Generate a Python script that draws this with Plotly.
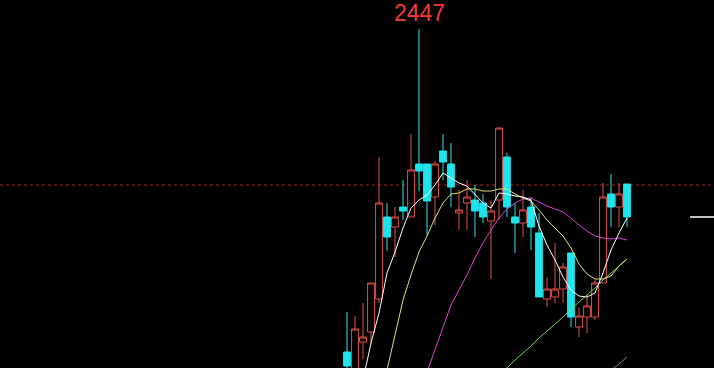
import plotly.graph_objects as go

# ---- data (price units) ----
idx = list(range(36))
opens  = [2124, 2096, 2134, 2144, 2177, 2259, 2249, 2269, 2259, 2312, 2312, 2279, 2325, 2312, 2263, 2273,
          2276, 2273, 2255, 2276, 2319, 2259, 2253, 2269, 2243, 2177, 2179, 2187, 2223, 2149, 2159, 2159,
          2193, 2282, 2269, 2292]
highs  = [2164, 2160, 2173, 2193, 2319, 2273, 2269, 2296, 2342, 2447, 2312, 2315, 2342, 2333, 2286, 2296,
          2291, 2282, 2276, 2348, 2323, 2273, 2286, 2279, 2263, 2199, 2233, 2213, 2223, 2168, 2181, 2196,
          2293, 2302, 2293, 2292]
lows   = [2104, 2090, 2117, 2133, 2173, 2225, 2219, 2256, 2259, 2285, 2241, 2251, 2296, 2269, 2246, 2246,
          2239, 2253, 2197, 2256, 2259, 2223, 2239, 2226, 2179, 2169, 2173, 2173, 2149, 2139, 2143, 2156,
          2193, 2249, 2249, 2249]
closes = [2110, 2147, 2139, 2193, 2273, 2239, 2259, 2265, 2306, 2305, 2275, 2312, 2314, 2289, 2266, 2279,
          2265, 2259, 2265, 2348, 2269, 2253, 2266, 2249, 2179, 2187, 2187, 2209, 2159, 2160, 2170, 2193,
          2279, 2269, 2282, 2259]

ma5_x  = list(range(1, 36))
ma5    = [2076, 2096, 2133, 2163, 2203, 2224, 2248, 2268, 2276, 2281, 2291, 2303, 2298, 2293, 2290, 2281,
          2273, 2268, 2283, 2282, 2280, 2279, 2276, 2250, 2231, 2216, 2199, 2186, 2180, 2179, 2183, 2203,
          2226, 2243, 2258]
ma10_x = list(range(4, 36))
ma10   = [2071, 2106, 2141, 2176, 2201, 2224, 2240, 2258, 2273, 2282, 2283, 2287, 2287, 2285, 2285, 2287,
          2287, 2282, 2278, 2275, 2266, 2256, 2248, 2240, 2228, 2212, 2202, 2197, 2197, 2200, 2210, 2217]
ma20_x = list(range(10, 36))
ma20   = [2104, 2126, 2149, 2171, 2186, 2201, 2218, 2233, 2246, 2258, 2267, 2273, 2277, 2278, 2274, 2270,
          2267, 2264, 2258, 2251, 2245, 2240, 2238, 2237, 2238, 2236]
ma60_x = list(range(19, 36))
ma60   = [2101, 2108, 2116, 2123, 2130, 2138, 2145, 2152, 2159, 2167, 2174, 2181, 2188, 2196, 2203, 2210, 2217]
ma120_x = [32, 33, 34, 35]
ma120  = [2100, 2106, 2112, 2119]

ref_price = 2291          # dashed reference line
y_range = [2108, 2476]
x_range = [-43.375, 45.875]

UP = "#e2504a"
DOWN = "#1fe4ec"

fig = go.Figure()

ma_styles = [
    (ma120_x, ma120, "#8a8a8a"),
    (ma60_x, ma60, "#6fd65a"),
    (ma20_x, ma20, "#e040e0"),
    (ma10_x, ma10, "#dfe27a"),
    (ma5_x, ma5, "#ffffff"),
]

fig.add_trace(go.Candlestick(
    x=idx, open=opens, high=highs, low=lows, close=closes,
    increasing=dict(line=dict(color=UP, width=1), fillcolor="#000000"),
    decreasing=dict(line=dict(color=DOWN, width=1), fillcolor=DOWN),
    whiskerwidth=0, showlegend=False, hoverinfo="skip",
))

for xs, ys, col in ma_styles:
    fig.add_trace(go.Scatter(x=xs, y=ys, mode="lines", line=dict(color=col, width=1),
                             showlegend=False, hoverinfo="skip"))

# dashed reference line
fig.add_shape(type="line", xref="paper", x0=0, x1=1, yref="y", y0=ref_price, y1=ref_price,
              line=dict(color="#a02a2a", width=1, dash="3px,3px"), layer="below")
# last price marker
fig.add_shape(type="line", xref="paper", x0=690/714, x1=1, yref="y", y0=closes[-1], y1=closes[-1],
              line=dict(color="#ffffff", width=1.5))

hi = max(highs)
hi_i = highs.index(hi)
fig.add_annotation(x=idx[hi_i], y=hi, text=str(hi), showarrow=False, yanchor="bottom",
                   yshift=1, font=dict(family="Liberation Sans, Arial", size=23, color="#f03c3c"))

fig.update_layout(
    width=714, height=368, margin=dict(l=0, r=0, t=0, b=0),
    paper_bgcolor="#000000", plot_bgcolor="#000000",
    boxgap=0.15, boxgroupgap=0,
    xaxis=dict(range=x_range, visible=False, rangeslider=dict(visible=False), fixedrange=True),
    yaxis=dict(range=y_range, visible=False, fixedrange=True),
    showlegend=False,
)

fig.write_html("out.html")
